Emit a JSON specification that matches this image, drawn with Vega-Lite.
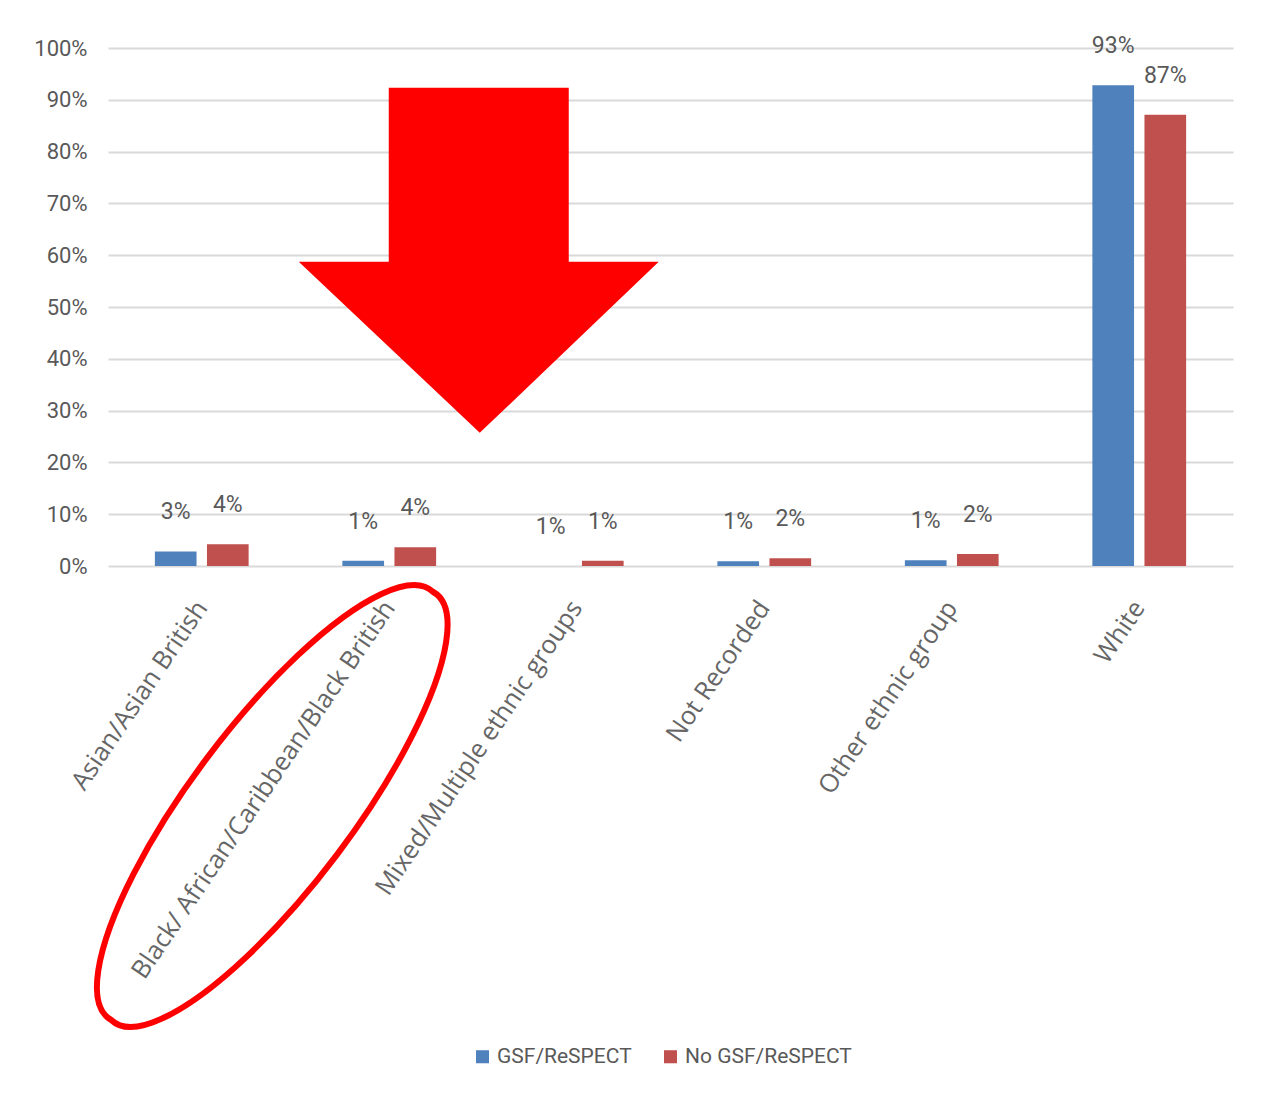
{
  "$schema": "https://vega.github.io/schema/vega-lite/v6.json",
  "width": 1125,
  "height": 518,
  "autosize": {"type": "none"},
  "padding": {"left": 108, "top": 48, "right": 31, "bottom": 545},
  "background": "white",
  "config": {"view": {"stroke": null}},
  "datasets": {
    "bars": [
      {"group": "Asian/Asian British", "series": "GSF/ReSPECT", "value": 2.8, "label": "3%"},
      {"group": "Asian/Asian British", "series": "No GSF/ReSPECT", "value": 4.2, "label": "4%"},
      {"group": "Black/ African/Caribbean/Black British", "series": "GSF/ReSPECT", "value": 1.0, "label": "1%"},
      {"group": "Black/ African/Caribbean/Black British", "series": "No GSF/ReSPECT", "value": 3.6, "label": "4%"},
      {"group": "Mixed/Multiple ethnic groups", "series": "GSF/ReSPECT", "value": 0, "label": "1%"},
      {"group": "Mixed/Multiple ethnic groups", "series": "No GSF/ReSPECT", "value": 1.0, "label": "1%"},
      {"group": "Not Recorded", "series": "GSF/ReSPECT", "value": 0.9, "label": "1%"},
      {"group": "Not Recorded", "series": "No GSF/ReSPECT", "value": 1.5, "label": "2%"},
      {"group": "Other ethnic group", "series": "GSF/ReSPECT", "value": 1.1, "label": "1%"},
      {"group": "Other ethnic group", "series": "No GSF/ReSPECT", "value": 2.3, "label": "2%"},
      {"group": "White", "series": "GSF/ReSPECT", "value": 92.8, "label": "93%"},
      {"group": "White", "series": "No GSF/ReSPECT", "value": 87.1, "label": "87%"}
    ],
    "arrow": [{"group": "Mixed/Multiple ethnic groups", "value": 25.7}],
    "ellipse": [{"group": "Black/ African/Caribbean/Black British", "value": 0}]
  },
  "data": {"name": "bars"},
  "encoding": {
    "x": {
      "field": "group", "type": "nominal", "sort": null,
      "scale": {"type": "band", "paddingInner": 0.5, "paddingOuter": 0.25},
      "axis": {
        "title": null, "ticks": false, "domain": false, "grid": false,
        "labelAngle": -56, "labelAlign": "right", "labelBaseline": "middle",
        "labelPadding": 37, "labelFontSize": 25.5, "labelFont": "Open Sans",
        "labelColor": "#666666", "labelLimit": 0
      }
    },
    "y": {
      "field": "value", "type": "quantitative",
      "scale": {"domain": [0, 100], "nice": false},
      "axis": {
        "title": null, "ticks": false, "domain": false, "grid": true,
        "gridColor": "#D9D9D9", "gridWidth": 2,
        "values": [0, 10, 20, 30, 40, 50, 60, 70, 80, 90, 100],
        "labelExpr": "datum.value + '%'",
        "labelPadding": 21, "labelFontSize": 22,
        "labelFont": "Roboto",
        "labelColor": "#595959"
      }
    }
  },
  "layer": [
    {
      "mark": {"type": "bar"},
      "encoding": {
        "xOffset": {"field": "series", "sort": null, "scale": {"paddingInner": 0.2}},
        "color": {
          "field": "series", "type": "nominal",
          "scale": {"domain": ["GSF/ReSPECT", "No GSF/ReSPECT"], "range": ["#4F81BD", "#C0504D"]},
          "legend": {
            "title": null, "orient": "none", "direction": "horizontal",
            "legendX": 364, "legendY": 998,
            "symbolType": "square", "symbolSize": 170, "symbolStrokeWidth": 0,
            "labelFontSize": 21, "labelColor": "#595959",
            "labelFont": "Roboto", "labelLimit": 0,
            "columnPadding": 28, "labelOffset": 4
          }
        }
      }
    },
    {
      "mark": {
        "type": "text", "baseline": "middle", "dy": -39, "fontSize": 23,
        "color": "#595959", "font": "Roboto"
      },
      "encoding": {
        "xOffset": {"field": "series", "sort": null, "scale": {"paddingInner": 0.2}},
        "text": {"field": "label"}
      }
    },
    {
      "data": {"name": "arrow"},
      "mark": {
        "type": "point", "filled": true, "opacity": 1, "fill": "#FF0000", "fillOpacity": 1, "strokeWidth": 0,
        "shape": "M-97,0L-278,-171L-188,-171L-188,-345L-8,-345L-8,-171L82,-171Z"
      },
      "encoding": {
        "size": {"value": 4}
      }
    },
    {
      "data": {"name": "ellipse"},
      "mark": {
        "type": "point", "filled": false, "opacity": 1, "stroke": "#FF0000", "strokeOpacity": 1, "strokeWidth": 6,
        "shape": "M44,26A268,78,-53,1,0,-278,454A268,78,-53,1,0,44,26Z"
      },
      "encoding": {
        "size": {"value": 4}
      }
    }
  ]
}
